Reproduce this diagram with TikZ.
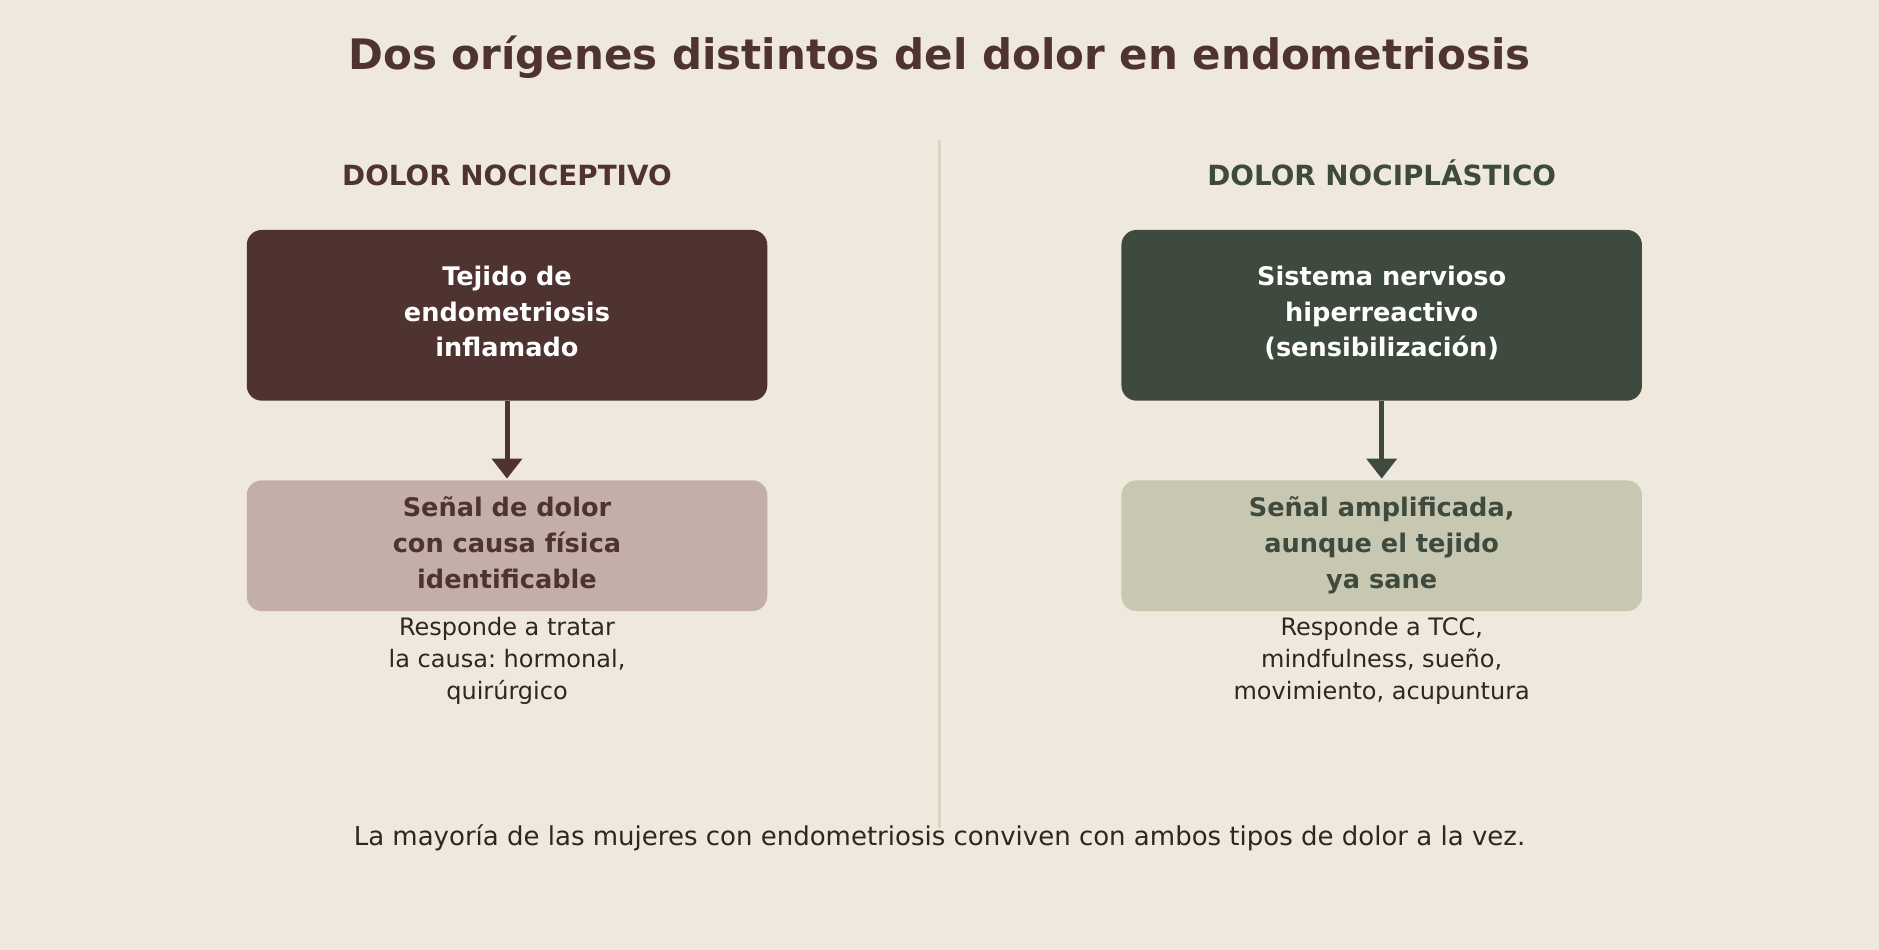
\documentclass[tikz,border=0pt]{standalone}
\usepackage{fontspec}
\setmainfont{DejaVu Sans}
\usetikzlibrary{arrows.meta,positioning}
\frenchspacing

\definecolor{paper}{HTML}{EFE8DC}
\definecolor{divline}{HTML}{DCD3C0}
\definecolor{nocidark}{HTML}{4E3330}
\definecolor{nocilight}{HTML}{C4AFA8}
\definecolor{plastdark}{HTML}{3F4A3E}
\definecolor{plastlight}{HTML}{C8C7B2}
\definecolor{notetext}{HTML}{2B2824}

\tikzset{
	title/.style={anchor=base, inner sep=0pt, text=nocidark, font=\bfseries\fontsize{42}{50}\selectfont},
	heading/.style={anchor=base, inner sep=0pt, font=\bfseries\fontsize{27.8}{33}\selectfont},
	causebox/.style={rectangle, rounded corners=15pt, minimum width=520.5pt, minimum height=170.7pt, inner sep=0pt, align=center, text height=90pt, text depth=7.2pt, font=\bfseries\fontsize{25.6}{35.5}\selectfont},
	signalbox/.style={rectangle, rounded corners=15pt, minimum width=520.5pt, minimum height=130.7pt, inner sep=0pt, align=center, text height=91pt, text depth=6.2pt, font=\bfseries\fontsize{25.6}{36}\selectfont},
	note/.style={anchor=north, inner sep=0pt, align=center, text=notetext, font=\fontsize{24}{31.7}\selectfont},
	flow/.style={line width=5pt, -{Triangle[width=29.6pt,length=20pt]}, shorten >=1.5pt},
	divider/.style={line width=3pt, draw=divline}
}

\begin{document}
\begin{tikzpicture}[x=1pt,y=-1pt]
	%%%%% BACKGROUND %%%%%
	\fill[paper] (0,0) rectangle (1879,950);
	\useasboundingbox (0,0) rectangle (1879,950);
	
	\node[title] (titulo) at (939.5,69.3) {Dos orígenes distintos del dolor en endometriosis};
	
	\coordinate (divtop) at (939.5,140);
	\coordinate (divbot) at (939.5,828);
	\draw[divider] (divtop) -- (divbot);
	
	%%%%% NOCICEPTIVO %%%%%
	\node[heading, text=nocidark] (headL) at (507,185) {DOLOR NOCICEPTIVO};
	\node[causebox, fill=nocidark, text=white] (causeL) at (507,315.3) {Tejido de\\endometriosis\\inflamado};
	\node[signalbox, fill=nocilight, text=nocidark, below=79.3pt of causeL] (signalL) {Señal de dolor\\con causa física\\identificable};
	\node[note, below=6pt of signalL] (noteL) {Responde a tratar\\la causa: hormonal,\\quirúrgico};
	\draw[flow, nocidark] (causeL.south) -- (signalL.north);
	
	%%%%% NOCIPLASTICO %%%%%
	\node[heading, text=plastdark] (headR) at (1381.7,185) {DOLOR NOCIPLÁSTICO};
	\node[causebox, fill=plastdark, text=white] (causeR) at (1381.7,315.3) {Sistema nervioso\\hiperreactivo\\(sensibilización)};
	\node[signalbox, fill=plastlight, text=plastdark, below=79.3pt of causeR] (signalR) {Señal amplificada,\\aunque el tejido\\ya sane};
	\node[note, below=6pt of signalR] (noteR) {Responde a TCC,\\mindfulness, sueño,\\movimiento, acupuntura};
	\draw[flow, plastdark] (causeR.south) -- (signalR.north);
	
	\node[anchor=base, inner sep=0pt, text=notetext, font=\fontsize{26}{30}\selectfont] (resumen) at (939.5,845) {La mayoría de las mujeres con endometriosis conviven con ambos tipos de dolor a la vez.};
	
	%%%%% END %%%%%
\end{tikzpicture}
\end{document}
